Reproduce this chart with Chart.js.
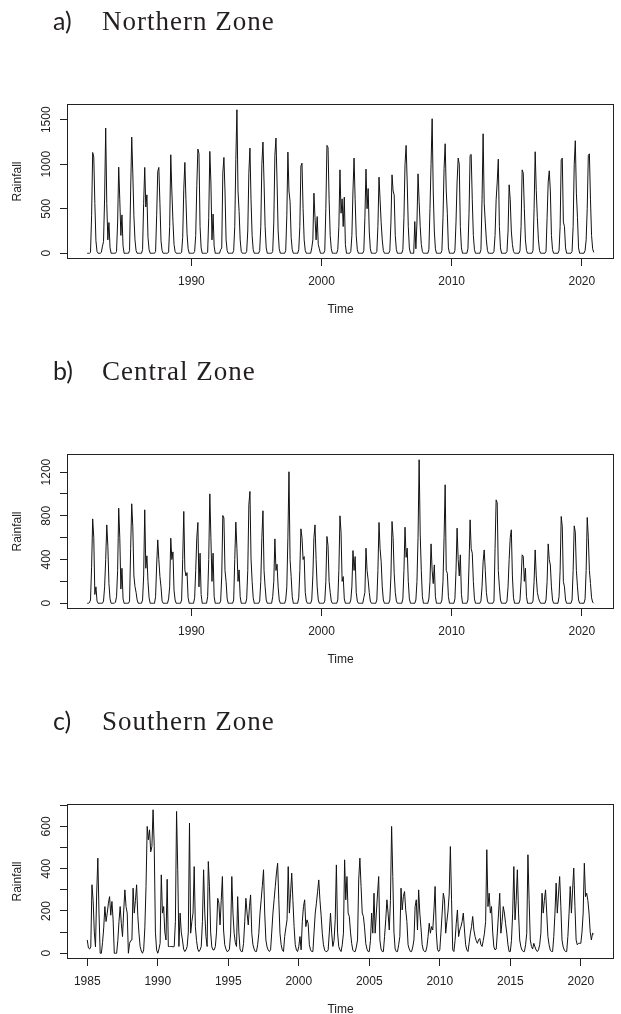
<!DOCTYPE html>
<html lang="en">
<head>
<meta charset="UTF-8">
<title>Rainfall - Northern, Central and Southern Zone</title>
<script src="https://cdn.jsdelivr.net/npm/chart.js"></script>
<style>
    html, body { margin: 0; padding: 0; background: #fff; overflow: hidden; }
    body { width: 621px; height: 1014px; position: relative; }
    .painel { position: absolute; left: 0; width: 621px; height: 350px; }
    .painel canvas { position: absolute; left: 0; top: 0; }
    .titulo { position: absolute; left: 53px; top: 5px; white-space: nowrap; color: #231f20; line-height: 30px; }
    .letra { font-family: Lato, "Open Sans", sans-serif; font-size: 25px; display: inline-block; width: 49px; }
    .nome { font-family: "Liberation Serif", "Times New Roman", serif; font-size: 27px; letter-spacing: 1px; }
</style>
</head>
<body>
    <div class="painel" style="top: 0px;">
        <canvas id="graficoNorte" width="621" height="350"></canvas>
        <div class="titulo"><span class="letra">a)</span><span class="nome">Northern Zone</span></div>
    </div>
    <div class="painel" style="top: 350px;">
        <canvas id="graficoCentro" width="621" height="350"></canvas>
        <div class="titulo"><span class="letra">b)</span><span class="nome">Central Zone</span></div>
    </div>
    <div class="painel" style="top: 700px;">
        <canvas id="graficoSul" width="621" height="350"></canvas>
        <div class="titulo"><span class="letra">c)</span><span class="nome">Southern Zone</span></div>
    </div>

<script>
    // monthly rainfall, one row per year (Jan..Dec)
    const inicioNorte = 1982;
    const chuvaNorte = [
        [0,0,0,10,420,1132,1080,560,140,20,0,0],
        [0,10,80,130,620,1406,560,150,345,60,0,0],
        [0,0,0,20,350,967,600,200,431,80,0,0],
        [0,0,0,30,700,1305,900,420,150,30,0,0],
        [0,0,0,40,560,964,520,656,180,40,0,0],
        [0,0,0,20,420,920,964,560,140,30,0,0],
        [0,0,0,15,300,1106,700,360,100,20,0,0],
        [0,0,0,10,180,720,1020,600,220,50,0,0],
        [0,0,0,20,200,760,1170,1120,300,60,0,0],
        [0,0,0,10,400,1144,800,150,440,80,0,0],
        [0,0,0,40,60,900,1076,700,150,30,0,0],
        [0,0,0,30,300,1050,1612,700,469,150,20,0],
        [0,0,0,20,250,900,1181,600,200,40,0,0],
        [0,0,0,30,300,1000,1249,800,300,60,0,0],
        [0,0,0,20,350,1100,1294,800,250,50,0,0],
        [0,0,0,30,420,1136,700,581,180,40,0,0],
        [0,0,0,40,300,980,1012,500,150,30,0,0],
        [0,0,0,60,150,675,400,150,412,100,50,0],
        [0,0,0,30,500,1211,1190,600,200,50,0,0],
        [0,0,0,40,300,937,450,611,300,630,100,0],
        [0,0,0,20,200,700,1069,600,200,40,0,0],
        [0,0,0,30,400,945,500,727,250,50,0,0],
        [0,0,0,20,300,855,600,345,150,30,0,0],
        [0,0,0,30,350,881,700,656,200,40,0,0],
        [0,0,0,40,400,1000,1211,800,300,60,0,0],
        [0,0,356,50,350,892,581,300,100,20,0,0],
        [0,0,0,40,500,1000,1511,700,250,50,0,0],
        [0,0,0,30,400,950,1230,700,450,60,0,0],
        [0,0,0,30,350,800,1069,1000,300,60,0,0],
        [0,0,0,50,450,1100,1110,600,200,40,0,0],
        [0,0,0,40,600,1342,562,350,150,30,0,0],
        [0,0,0,20,200,600,800,1057,300,60,0,0],
        [0,0,0,20,250,769,600,250,100,20,0,0],
        [0,0,0,30,300,937,900,500,150,30,0,0],
        [0,0,0,30,500,1140,705,400,150,30,0,0],
        [0,0,0,20,400,800,926,700,200,40,0,0],
        [0,0,0,30,300,1050,1069,350,300,60,0,0],
        [0,0,0,20,300,1000,1264,675,400,60,0,0],
        [0,0,0,30,150,500,1100,1117,600,200,50,10]
    ];

    const inicioCentro = 1982;
    const chuvaCentro = [
        [0,0,5,30,330,772,600,80,150,20,0,0],
        [0,0,0,20,150,400,717,520,180,40,0,0],
        [0,0,10,60,300,870,600,130,320,40,0,0],
        [0,0,0,20,500,910,700,250,153,100,30,0],
        [0,0,0,30,250,855,320,434,200,50,0,0],
        [0,0,0,60,350,580,400,244,150,20,0,0],
        [0,0,0,40,150,595,400,470,120,30,0,0],
        [0,0,0,30,400,840,305,250,280,50,0,0],
        [0,0,0,50,300,600,739,150,458,80,0,0],
        [0,0,0,60,400,1001,600,200,458,60,0,0],
        [0,0,0,20,250,803,780,300,200,40,0,0],
        [0,0,0,30,400,742,500,200,305,60,0,0],
        [0,0,0,40,300,900,1023,412,200,50,0,0],
        [0,0,0,20,200,600,846,300,150,30,0,0],
        [0,0,0,60,200,589,300,357,150,30,0,0],
        [0,0,0,30,150,600,1203,400,244,60,0,0],
        [0,0,0,50,300,681,600,400,427,100,20,0],
        [0,0,0,30,250,600,717,400,150,30,0,0],
        [0,0,0,20,200,611,528,200,100,20,0,0],
        [0,0,0,30,300,800,650,200,244,40,0,0],
        [0,0,0,30,150,482,300,427,100,20,0,0],
        [0,0,0,50,100,504,300,214,100,20,0,0],
        [0,0,0,30,300,739,500,382,150,30,0,0],
        [0,0,0,30,250,748,600,275,100,20,0,0],
        [0,0,0,40,300,696,420,504,200,40,0,0],
        [0,0,0,30,200,600,1313,632,300,60,0,0],
        [0,0,0,40,200,543,300,180,351,60,0,0],
        [0,0,0,30,200,600,1084,300,275,60,0,0],
        [0,0,0,40,300,687,400,250,443,80,0,0],
        [0,0,0,30,350,763,500,458,200,40,0,0],
        [0,0,0,20,150,380,488,300,100,20,0,0],
        [0,0,0,20,500,946,920,300,150,30,0,0],
        [0,0,0,20,150,400,600,672,250,50,0,0],
        [0,0,0,30,200,443,430,200,320,60,0,0],
        [0,0,0,20,200,488,250,100,50,20,0,0],
        [0,0,0,30,200,543,400,350,150,30,0,0],
        [0,0,0,60,300,794,700,200,150,30,0,0],
        [0,0,0,30,300,708,650,300,150,30,0,0],
        [0,0,0,40,300,785,600,300,180,50,10,0]
    ];

    const inicioSul = 1985;
    const chuvaSul = [
        [63,25,20,30,324,250,100,30,280,450,190,0],
        [0,50,120,221,150,190,237,268,180,245,158,0],
        [0,0,60,150,221,140,79,200,300,221,190,0],
        [47,60,63,308,190,250,324,180,95,32,10,0],
        [16,120,316,600,537,584,480,505,679,505,100,16],
        [0,20,47,371,190,221,100,63,350,32,32,32],
        [32,30,32,150,671,395,32,190,100,63,20,8],
        [16,32,100,616,95,150,190,410,126,60,20,8],
        [16,32,150,395,190,80,32,434,316,100,30,16],
        [16,32,100,260,237,134,250,363,110,40,20,8],
        [10,20,95,363,190,95,50,32,268,100,20,8],
        [8,47,150,260,190,134,220,276,95,40,20,8],
        [8,40,95,190,253,320,395,190,63,30,15,8],
        [16,100,190,253,316,380,426,253,95,40,15,8],
        [79,120,158,410,190,284,379,250,126,40,15,8],
        [32,79,16,150,221,253,126,158,140,40,16,8],
        [8,100,190,237,292,347,253,180,95,40,15,8],
        [8,16,100,190,95,32,60,158,418,100,32,16],
        [8,40,95,442,253,363,190,174,100,47,15,8],
        [8,30,63,347,450,316,190,174,120,47,20,8],
        [8,60,190,95,284,95,190,280,363,63,20,8],
        [8,80,158,253,190,110,250,600,363,100,20,8],
        [8,40,79,308,205,268,292,205,150,40,20,8],
        [8,30,63,221,253,110,300,190,120,40,15,8],
        [8,30,79,142,95,126,110,200,316,100,20,8],
        [16,100,190,284,253,95,150,200,280,505,253,16],
        [8,60,142,205,79,110,126,150,190,110,40,16],
        [8,50,95,126,174,110,79,60,47,63,70,40],
        [32,60,95,150,490,221,284,190,221,100,30,16],
        [20,100,190,284,95,150,221,190,140,95,40,8],
        [8,60,190,410,158,250,395,190,63,30,15,8],
        [8,40,95,466,253,63,32,20,47,30,15,8],
        [16,40,95,284,190,250,300,190,79,40,15,8],
        [8,80,190,332,190,280,363,221,63,30,15,8],
        [8,80,190,316,190,300,403,221,63,40,47,47],
        [47,100,190,426,268,284,250,190,100,63,95,90]
    ];

    // axis ticks
    const anosDecada = [1990, 2000, 2010, 2020];
    const anosSul = [1985, 1990, 1995, 2000, 2005, 2010, 2015, 2020];
    const marcasNorte = [0, 500, 1000, 1500];
    const rotulosNorte = [0, 500, 1000, 1500];
    const marcasCentro = [0, 200, 400, 600, 800, 1000, 1200];
    const rotulosCentro = [0, 400, 800, 1200];
    const marcasSul = [0, 100, 200, 300, 400, 500, 600, 700];
    const rotulosSul = [0, 200, 400, 600];

    const fonteEixo = { family: '"Liberation Sans", Arial, sans-serif', size: 12 };
    const corTexto = '#222';

    const moldura = {
        id: 'moldura',
        afterDraw(chart) {
            const { ctx, chartArea } = chart;
            const l = Math.round(chartArea.left), t = Math.round(chartArea.top);
            const r = Math.round(chartArea.right), b = Math.round(chartArea.bottom);
            ctx.save();
            ctx.strokeStyle = '#222';
            ctx.lineWidth = 1;
            ctx.strokeRect(l + 0.5, t + 0.5, r - l - 1, b - t - 1);
            ctx.restore();
        }
    };

    function plotar(id, linhas, anoInicial, anosX, marcasY, rotulosY, padY) {
        const pontos = [];
        linhas.forEach((meses, i) => {
            meses.forEach((v, m) => pontos.push({ x: anoInicial + i + m / 12, y: v }));
        });

        // R style axis limits: data range plus 4% on each side
        const xs = pontos.map(p => p.x);
        const ys = pontos.map(p => p.y);
        const x0 = Math.min(...xs), x1 = Math.max(...xs);
        const y0 = Math.min(...ys), y1 = Math.max(...ys);
        const dx = (x1 - x0) * 0.04, dy = (y1 - y0) * 0.04;

        const config = {
            type: 'line',
            data: {
                datasets: [{
                    data: pontos,
                    borderColor: '#111',
                    borderWidth: 1,
                    pointRadius: 0,
                    tension: 0,
                    fill: false
                }]
            },
            options: {
                responsive: false,
                animation: false,
                events: [],
                layout: { padding: { top: 104, right: 7, left: 0, bottom: 0 } },
                plugins: {
                    legend: { display: false },
                    tooltip: { enabled: false }
                },
                scales: {
                    x: {
                        type: 'linear',
                        min: x0 - dx,
                        max: x1 + dx,
                        afterBuildTicks: s => { s.ticks = anosX.map(v => ({ value: v })); },
                        afterFit: s => { s.height = 91; },
                        border: { display: false },
                        grid: { drawOnChartArea: false, tickLength: 7, color: '#222' },
                        ticks: {
                            font: fonteEixo, color: corTexto, padding: 8,
                            maxRotation: 0, autoSkip: false,
                            callback: v => String(v)
                        },
                        title: {
                            display: true, text: 'Time', font: fonteEixo, color: corTexto,
                            padding: { top: 0, bottom: 33.5 }
                        }
                    },
                    y: {
                        min: y0 - dy,
                        max: y1 + dy,
                        afterBuildTicks: s => { s.ticks = marcasY.map(v => ({ value: v })); },
                        afterFit: s => { s.width = 67; },
                        border: { display: false },
                        grid: { drawOnChartArea: false, tickLength: 7, color: '#222' },
                        ticks: {
                            font: fonteEixo, color: corTexto, padding: padY,
                            minRotation: 90, maxRotation: 90, crossAlign: 'center',
                            autoSkip: false,
                            callback: v => rotulosY.includes(v) ? String(v) : ''
                        },
                        title: {
                            display: true, text: 'Rainfall', font: fonteEixo, color: corTexto,
                            padding: { top: 10, bottom: 0 }
                        }
                    }
                }
            },
            plugins: [moldura]
        };

        return new Chart(document.getElementById(id), config);
    }

    plotar('graficoNorte', chuvaNorte, inicioNorte, anosDecada, marcasNorte, rotulosNorte, 0);
    plotar('graficoCentro', chuvaCentro, inicioCentro, anosDecada, marcasCentro, rotulosCentro, 0);
    plotar('graficoSul', chuvaSul, inicioSul, anosSul, marcasSul, rotulosSul, 3.3);
</script>
</body>
</html>
